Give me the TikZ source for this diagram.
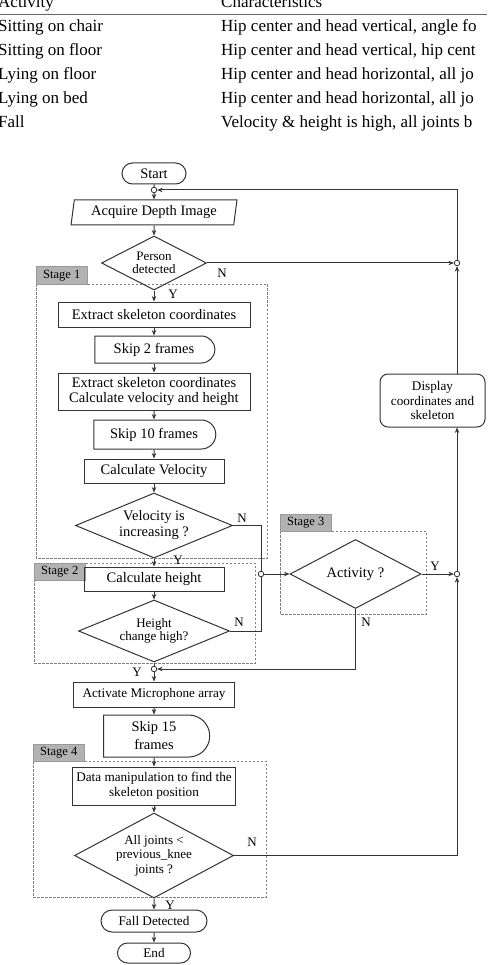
\documentclass[tikz,border=0pt]{standalone}
\usepackage{fontspec}
\setmainfont{Liberation Serif}
\usetikzlibrary{shapes.geometric, shapes.misc, arrows.meta}

\begin{document}
\begin{tikzpicture}[x=1pt, y=-1pt,
	every node/.style={inner sep=0pt, font=\fontsize{14.5}{15}\selectfont},
	flow/.style={draw=black!80, line width=1pt},
	arr/.style={flow, -{Stealth[length=5.5pt, width=4.5pt]}},
	procbox/.style={rectangle, draw=black!80, line width=1pt, align=center},
	termbox/.style={rounded rectangle, draw=black!80, line width=1pt},
	delaybox/.style={rounded rectangle, rounded rectangle left arc=none, draw=black!80, line width=1pt, align=center},
	decision/.style={diamond, aspect=2, draw=black!80, line width=1pt, align=center, font=\fontsize{13}{13}\selectfont},
	junction/.style={circle, draw=black!80, line width=0.8pt, fill=white, minimum size=5.5pt},
	stagebox/.style={draw=black!50, line width=0.7pt, dash pattern=on 2.5pt off 1.5pt},
	stagelabel/.style={rectangle, fill=black!30, draw=black!40, line width=0.5pt, minimum width=51pt, minimum height=17pt, font=\fontsize{12.5}{13}\selectfont},
	yn/.style={font=\fontsize{13}{13}\selectfont},
	tabtext/.style={anchor=base west, font=\fontsize{17}{17}\selectfont}]
	\useasboundingbox (0,0) rectangle (487,965);

	% Table
	\node[tabtext] (hact) at (-2,8) {Activity};
	\node[tabtext] (hchar) at (221,8) {Characteristics};
	\draw[black!60, line width=1.2pt] (0,14.5) -- (487,14.5);
	\node[tabtext] (r1a) at (-2,32) {Sitting on chair};
	\node[tabtext] (r1b) at (221,32) {Hip center and head vertical, angle fo};
	\node[tabtext] (r2a) at (-2,56) {Sitting on floor};
	\node[tabtext] (r2b) at (221,56) {Hip center and head vertical, hip cent};
	\node[tabtext] (r3a) at (-2,80) {Lying on floor};
	\node[tabtext] (r3b) at (221,80) {Hip center and head horizontal, all jo};
	\node[tabtext] (r4a) at (-2,104) {Lying on bed};
	\node[tabtext] (r4b) at (221,104) {Hip center and head horizontal, all jo};
	\node[tabtext] (r5a) at (-2,128) {Fall};
	\node[tabtext] (r5b) at (221,128) {Velocity \& height is high, all joints b};

	% Stages
	\draw[stagebox] (36,284) rectangle (267,558);
	\node[stagelabel, anchor=south west] (st1) at (36,284) {Stage 1};
	\draw[stagebox] (34,563) rectangle (255,663);
	\node[stagelabel, anchor=north west] (st2) at (34,563) {Stage 2};
	\draw[stagebox] (280,531) rectangle (426,614);
	\node[stagelabel, anchor=south west] (st3) at (280,531) {Stage 3};
	\draw[stagebox] (33,761) rectangle (266,897);
	\node[stagelabel, anchor=south west] (st4) at (33,761) {Stage 4};

	% Nodes
	\node[termbox, minimum width=64pt, minimum height=21pt] (start) at (154,173.5) {Start};
	\node[junction] (j1) at (154,190) {};
	\node[trapezium, trapezium left angle=79, trapezium right angle=101, trapezium stretches=true, draw=black!80, line width=1pt, minimum width=166pt, minimum height=25pt] (acq) at (154,212.5) {Acquire Depth Image};
	\node[decision, minimum width=105pt, minimum height=54pt] (person) at (154,263) {Person\\detected};
	\node[junction] (j4) at (457,263) {};
	\node[procbox, minimum width=192pt, minimum height=25pt] (ext1) at (154,314.5) {Extract skeleton coordinates};
	\node[delaybox, minimum width=120pt, minimum height=27pt] (skip2) at (154,349.5) {Skip 2 frames};
	\node[procbox, minimum width=192pt, minimum height=37pt] (ext2) at (154,391.5) {Extract skeleton coordinates\\Calculate velocity and height};
	\node[delaybox, minimum width=122pt, minimum height=29pt] (skip10) at (154,434.5) {Skip 10 frames};
	\node[procbox, minimum width=140pt, minimum height=24pt] (calcv) at (154,471) {Calculate Velocity};
	\node[decision, minimum width=157pt, minimum height=65pt, font=\fontsize{14.5}{16}\selectfont] (vel) at (154,525.5) {Velocity is\\increasing ?};
	\node[procbox, minimum width=140pt, minimum height=24pt] (calch) at (154,579) {Calculate height};
	\node[decision, minimum width=151pt, minimum height=62pt] (height) at (154,631) {Height\\change high?};
	\node[junction] (j2) at (261,574) {};
	\node[decision, minimum width=131pt, minimum height=69pt, font=\fontsize{14.5}{15}\selectfont] (act) at (355.5,574) {Activity ?};
	\node[junction] (j3) at (457,574) {};
	\node[rectangle, rounded corners=8pt, draw=black!80, line width=1pt, align=center, minimum width=105pt, minimum height=53pt, font=\fontsize{13.2}{14.5}\selectfont] (disp) at (432.5,400.5) {Display\\coordinates and\\skeleton};
	\node[junction] (j5) at (154,669) {};
	\node[procbox, minimum width=161pt, minimum height=25pt, font=\fontsize{13.2}{14}\selectfont] (mic) at (154,694.5) {Activate Microphone array};
	\node[delaybox, minimum width=106pt, minimum height=42pt, font=\fontsize{14.5}{18}\selectfont] (skip15) at (154,736) {Skip 15\\frames};
	\node[procbox, minimum width=163pt, minimum height=38pt, font=\fontsize{13.2}{15}\selectfont] (data) at (154,786) {Data manipulation to find the\\skeleton position};
	\node[decision, minimum width=159pt, minimum height=85pt, font=\fontsize{13}{14.5}\selectfont] (joints) at (154,855.5) {All joints <\\previous\_knee\\joints ?};
	\node[termbox, minimum width=106pt, minimum height=22pt, font=\fontsize{13.2}{14}\selectfont] (fall) at (154,921) {Fall Detected};
	\node[termbox, minimum width=73pt, minimum height=20pt, font=\fontsize{13.2}{14}\selectfont] (end) at (154,953) {End};

	% Edges
	\draw[flow] (start) -- (j1);
	\draw[arr] (j1) -- (acq);
	\draw[arr] (acq) -- (person);
	\draw[arr] (person) -- (ext1);
	\draw[arr] (person.east) -- (j4);
	\draw[arr] (disp.north -| j4) -- (j4);
	\draw[arr] (j4) |- (j1);
	\draw[arr] (ext1) -- (skip2);
	\draw[arr] (skip2) -- (ext2);
	\draw[arr] (ext2) -- (skip10);
	\draw[arr] (skip10) -- (calcv);
	\draw[arr] (calcv) -- (vel);
	\draw[arr] (vel) -- (calch);
	\draw[arr] (calch) -- (height);
	\draw[flow] (vel.east) -| (j2);
	\draw[flow] (height.east) -| (j2);
	\draw[arr] (j2) -- (act.west);
	\draw[arr] (act.east) -- (j3);
	\draw[arr] (act.south) |- (j5);
	\draw[flow] (height.south) -- (j5);
	\draw[arr] (j5) -- (mic);
	\draw[arr] (mic) -- (skip15);
	\draw[arr] (skip15) -- (data);
	\draw[arr] (data) -- (joints);
	\draw[arr] (joints.east) -| (j3);
	\draw[arr] (j3) -- (j3 |- disp.south);
	\draw[arr] (joints) -- (fall);
	\draw[arr] (fall) -- (end);

	% Labels
	\node[yn] (pn) at (222,273) {N};
	\node[yn] (py) at (173,294) {Y};
	\node[yn] (vn) at (242,518) {N};
	\node[yn] (vy) at (178,560) {Y};
	\node[yn] (hn) at (239,622) {N};
	\node[yn] (hy) at (137,672) {Y};
	\node[yn] (an) at (366,622) {N};
	\node[yn] (ay) at (435,566) {Y};
	\node[yn] (jn) at (252,842) {N};
	\node[yn] (jy) at (170,905) {Y};
\end{tikzpicture}
\end{document}
